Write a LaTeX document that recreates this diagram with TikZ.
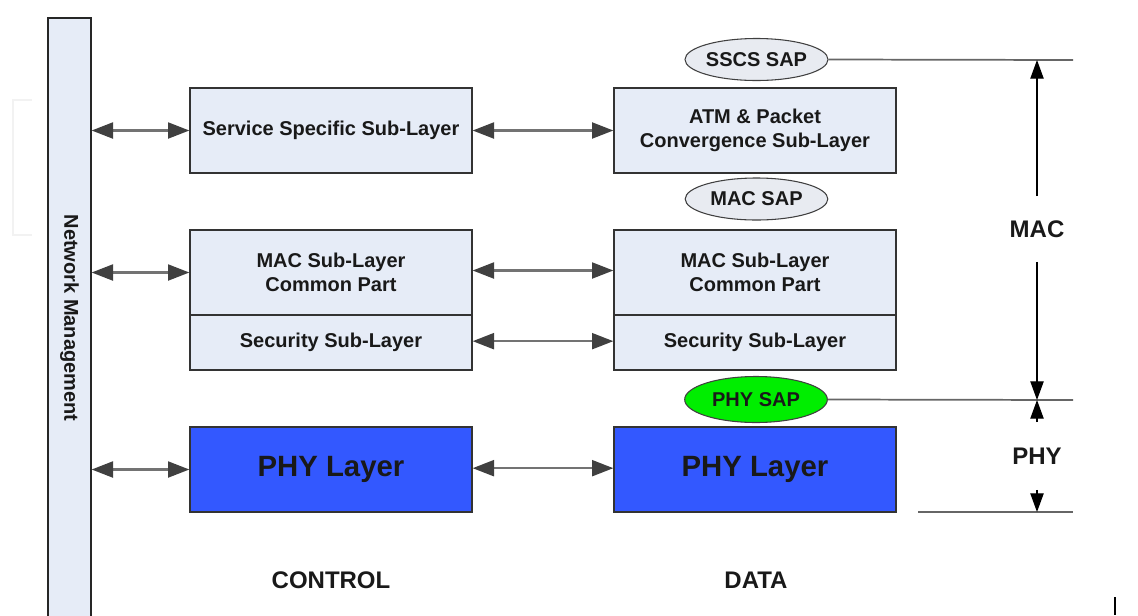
\documentclass[tikz,border=0pt]{standalone}
\usepackage{fontspec}
\setmainfont{Liberation Sans}
\usetikzlibrary{arrows.meta,shapes.geometric}

\definecolor{paleblue}{RGB}{230,236,247}
\definecolor{sapgray}{RGB}{232,235,241}
\definecolor{phyblue}{RGB}{51,88,255}
\definecolor{sapgreen}{RGB}{0,238,0}

\begin{document}
\begin{tikzpicture}[x=0.75pt, y=-0.75pt,
	layerbox/.style={draw=black!80, line width=1pt, fill=paleblue, text=black!90,
		minimum width=211.5pt, minimum height=63.75pt, inner sep=0pt, align=center,
		font=\fontsize{15}{18}\selectfont\bfseries},
	secbox/.style={layerbox, minimum height=41.25pt},
	phybox/.style={layerbox, fill=phyblue, font=\fontsize{22}{26}\selectfont\bfseries},
	sap/.style={ellipse, draw=black!75, line width=0.8pt, fill=sapgray, text=black!90,
		minimum width=107pt, minimum height=31.5pt, inner sep=0pt,
		font=\fontsize{15}{18}\selectfont\bfseries},
	biarrow/.style={{Triangle[length=16pt,width=12pt,color=black!75]}-{Triangle[length=16pt,width=12pt,color=black!75]},
		draw=black!55, line width=1.6pt},
	dimarrow/.style={-{Triangle[length=14pt,width=10pt]}, line width=0.9pt},
	bound/.style={draw=black!60, line width=1.3pt},
	biglabel/.style={text=black!90, font=\fontsize{18}{22}\selectfont\bfseries}
]
	\useasboundingbox (0,0) rectangle (1138,615);

	% faint watermark bracket
	\draw [black!5, line width=1pt] (32,100) -- (13,100) -- (13,235) -- (32,235);

	% network management bar
	\node [draw=black!85, line width=1pt, fill=paleblue, rotate=-90, minimum width=450pt,
		minimum height=32.25pt, inner sep=0pt, text=black!90,
		font=\fontsize{15}{18}\selectfont\bfseries] (nm) at (69.5,318) {Network Management};

	% control plane
	\node [layerbox] (ssl) at (331,130.5) {Service Specific Sub-Layer};
	\node [layerbox] (cpl) at (331,272.5) {MAC Sub-Layer\\Common Part};
	\node [secbox] (secl) at (331,342.5) {Security Sub-Layer};
	\node [phybox] (phyl) at (331,469.5) {PHY Layer};

	% data plane
	\node [layerbox] (cs) at (755,130.5) {ATM \& Packet\\Convergence Sub-Layer};
	\node [layerbox] (cpr) at (755,272.5) {MAC Sub-Layer\\Common Part};
	\node [secbox] (secr) at (755,342.5) {Security Sub-Layer};
	\node [phybox] (phyr) at (755,469.5) {PHY Layer};

	% service access points
	\node [sap] (sscs) at (756.5,59.5) {SSCS SAP};
	\node [sap] (macsap) at (756.5,199) {MAC SAP};
	\node [sap, fill=sapgreen, minimum height=34.5pt] (physap) at (756,399.5) {PHY SAP};

	% management arrows
	\foreach \n in {ssl, cpl, phyl} {
		\draw [biarrow] (nm.north |- \n.west) -- (\n.west);
	}
	% peer arrows
	\draw [biarrow] (ssl.east) -- (cs.west);
	\draw [biarrow] ([yshift=1.5pt]cpl.east) -- ([yshift=1.5pt]cpr.west);
	\draw [biarrow] ([yshift=1pt]secl.east) -- ([yshift=1pt]secr.west);
	\draw [biarrow] ([yshift=1pt]phyl.east) -- ([yshift=1pt]phyr.west);

	% layer boundaries
	\coordinate (topr) at (1073,60);
	\coordinate (midr) at (1073,400);
	\coordinate (botl) at (918,512);
	\coordinate (botr) at (1073,512);
	\draw [bound] (sscs.east) -- (topr);
	\draw [bound] (physap.east) -- (midr);
	\draw [bound] (botl) -- (botr);

	% extents
	\node [biglabel, inner sep=18pt] (maclbl) at (1037,229) {MAC};
	\node [biglabel, inner sep=19pt] (phylbl) at (1037,456) {PHY};
	\draw [dimarrow] (maclbl.north) -- (maclbl.north |- topr);
	\draw [dimarrow] (maclbl.south) -- (maclbl.south |- midr);
	\draw [dimarrow] (phylbl.north) -- (phylbl.north |- midr);
	\draw [dimarrow] (phylbl.south) -- (phylbl.south |- botr);

	% plane labels
	\node [biglabel] (ctrl) at (331,580) {CONTROL};
	\node [biglabel] (data) at (756,580) {DATA};

	\draw [line width=1.5pt] (1115,597) -- (1115,615);
\end{tikzpicture}
\end{document}
